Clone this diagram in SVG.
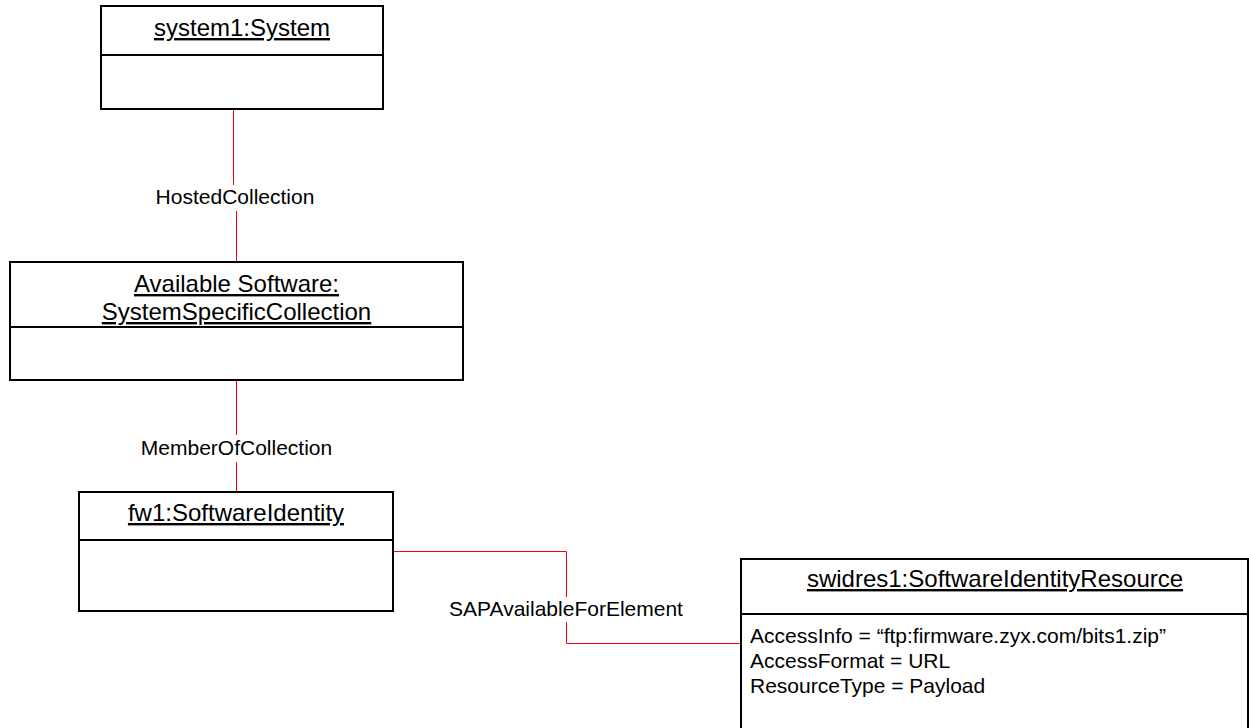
<svg xmlns="http://www.w3.org/2000/svg" width="1249" height="728" viewBox="0 0 1249 728">
  <style>
    .box { fill: #ffffff; stroke: #000000; stroke-width: 2; }
    .div { stroke: #000000; stroke-width: 2; }
    .title { font-family: "Liberation Sans", Arial, sans-serif; font-size: 24px; fill: #000000; text-anchor: middle; text-decoration: underline; }
    .attr { font-family: "Liberation Sans", Arial, sans-serif; font-size: 21px; fill: #000000; }
    .label { font-family: "Liberation Sans", Arial, sans-serif; font-size: 21px; fill: #000000; text-anchor: middle; }
    .link { fill: none; stroke: #ff0000; stroke-width: 1; }
  </style>
  <rect width="1249" height="728" fill="#ffffff"/>

  <!-- associations -->
  <g id="connectors">
    <line class="link" x1="233.5" y1="109" x2="233.5" y2="185"/>
    <line class="link" x1="236.5" y1="211" x2="236.5" y2="262"/>
    <text class="label" x="235" y="204">HostedCollection</text>

    <line class="link" x1="236.5" y1="380" x2="236.5" y2="435"/>
    <line class="link" x1="236.5" y1="462" x2="236.5" y2="492"/>
    <text class="label" x="236.5" y="455">MemberOfCollection</text>

    <polyline class="link" points="393,551.5 566.5,551.5 566.5,597"/>
    <polyline class="link" points="566.5,622 566.5,643.5 741,643.5"/>
    <text class="label" x="566" y="616">SAPAvailableForElement</text>
  </g>

  <g id="system1">
    <rect class="box" x="101" y="6" width="282" height="103"/>
    <line class="div" x1="101" y1="55" x2="383" y2="55"/>
    <text class="title" x="242" y="36">system1:System</text>
  </g>

  <g id="available-software">
    <rect class="box" x="10" y="262" width="453" height="118"/>
    <line class="div" x1="10" y1="327" x2="463" y2="327"/>
    <text class="title" x="236.5" y="292">Available Software:</text>
    <text class="title" x="236.5" y="320">SystemSpecificCollection</text>
  </g>

  <g id="fw1">
    <rect class="box" x="79" y="492" width="314" height="119"/>
    <line class="div" x1="79" y1="540" x2="393" y2="540"/>
    <text class="title" x="236" y="521">fw1:SoftwareIdentity</text>
  </g>

  <g id="swidres1">
    <rect class="box" x="741" y="559" width="507" height="200"/>
    <line class="div" x1="741" y1="614" x2="1248" y2="614"/>
    <text class="title" x="995" y="587">swidres1:SoftwareIdentityResource</text>
    <text class="attr" x="750" y="643">AccessInfo = “ftp:firmware.zyx.com/bits1.zip”</text>
    <text class="attr" x="750" y="668">AccessFormat = URL</text>
    <text class="attr" x="750" y="693">ResourceType = Payload</text>
  </g>
</svg>
